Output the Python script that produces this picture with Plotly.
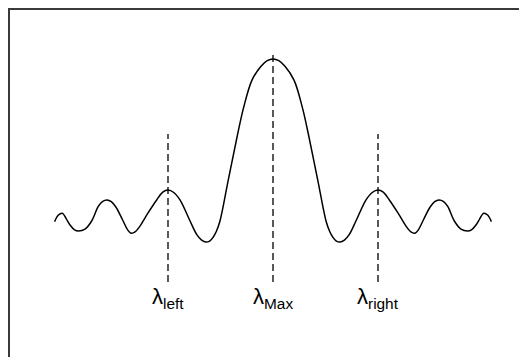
import plotly.graph_objects as go

# Curve samples (relative wavelength, relative intensity)
wl_left = [-2.08, -2.044, -2.006, -1.97, -1.933, -1.89, -1.854, -1.79, -1.727, -1.664,
           -1.625, -1.581, -1.54, -1.495, -1.432, -1.384, -1.352, -1.31, -1.27, -1.19,
           -1.108, -1.05, -1.0, -0.945, -0.886, -0.79, -0.724, -0.68, -0.638, -0.60,
           -0.57, -0.54, -0.505, -0.43, -0.343, -0.28, -0.2, -0.114, -0.055]
int_left = [-0.004, 0.037, 0.048, 0.015, -0.025, -0.055, -0.062, -0.050, 0.0, 0.09,
            0.12, 0.13, 0.12, 0.085, 0.006, -0.055, -0.075, -0.065, -0.035, 0.05,
            0.13, 0.178, 0.191, 0.176, 0.13, 0.0, -0.086, -0.118, -0.13, -0.122,
            -0.1, -0.065, 0.0, 0.24, 0.517, 0.70, 0.87, 0.955, 0.99]
wl_peak = [0.0]
int_peak = [1.0]
wl_right = [0.055, 0.114, 0.2, 0.28, 0.343, 0.43, 0.505, 0.54, 0.57, 0.60,
            0.638, 0.68, 0.724, 0.79, 0.886, 0.945, 1.0, 1.05, 1.108, 1.19,
            1.27, 1.31, 1.352, 1.384, 1.432, 1.495, 1.54, 1.581, 1.625, 1.664,
            1.727, 1.79, 1.854, 1.89, 1.933, 1.97, 2.006, 2.044, 2.08]
int_right = [0.99, 0.955, 0.87, 0.70, 0.517, 0.24, 0.0, -0.065, -0.1, -0.122,
             -0.13, -0.118, -0.086, 0.0, 0.13, 0.176, 0.191, 0.178, 0.13, 0.05,
             -0.035, -0.065, -0.075, -0.055, 0.006, 0.085, 0.12, 0.13, 0.12, 0.09,
             0.0, -0.050, -0.062, -0.055, -0.025, 0.015, 0.048, 0.037, -0.004]

# Marker lines
lambda_pos = [-1.0, 0.0, 1.0]
lambda_top = [0.537, 1.037, 0.537]
lambda_bottom = -0.377
lambda_labels = ["λ<sub>left</sub>", "λ<sub>Max</sub>", "λ<sub>right</sub>"]

wl = wl_left + wl_peak + wl_right
intensity = int_left + int_peak + int_right

fig = go.Figure()
fig.add_trace(go.Scatter(x=wl, y=intensity, mode="lines",
                         line=dict(color="black", width=1.5, shape="spline", smoothing=1.0),
                         hoverinfo="skip", showlegend=False))
for xp, yt in zip(lambda_pos, lambda_top):
    fig.add_trace(go.Scatter(x=[xp, xp], y=[lambda_bottom, yt], mode="lines",
                             line=dict(color="black", width=1.3, dash="7px,4px"),
                             hoverinfo="skip", showlegend=False))
for xp, lab in zip(lambda_pos, lambda_labels):
    fig.add_annotation(x=xp, y=lambda_bottom, text=lab, showarrow=False,
                       xanchor="center", yanchor="top", yshift=0,
                       font=dict(family="Liberation Sans, Arial, sans-serif", size=22, color="black"))

# page has an 8px body margin, so the figure is 8px smaller than the window
OFF = 8
W, H = 527 - OFF, 357 - OFF
x0px, xscale = 273.0 - OFF, 105.0
y0px, yscale = 221.0 - OFF, 162.0
fig.update_xaxes(range=[(0 - x0px) / xscale, (W - x0px) / xscale], visible=False)
fig.update_yaxes(range=[(y0px - H) / yscale, y0px / yscale], visible=False)

fig.add_shape(type="rect", xref="paper", yref="paper",
              x0=1 / W, x1=1.05, y0=-0.05, y1=1 - 1 / H,
              line=dict(color="#3a3a3a", width=2), fillcolor="rgba(0,0,0,0)")

fig.update_layout(width=W, height=H, margin=dict(l=0, r=0, t=0, b=0),
                  paper_bgcolor="white", plot_bgcolor="white")
fig.write_html("out.html")
